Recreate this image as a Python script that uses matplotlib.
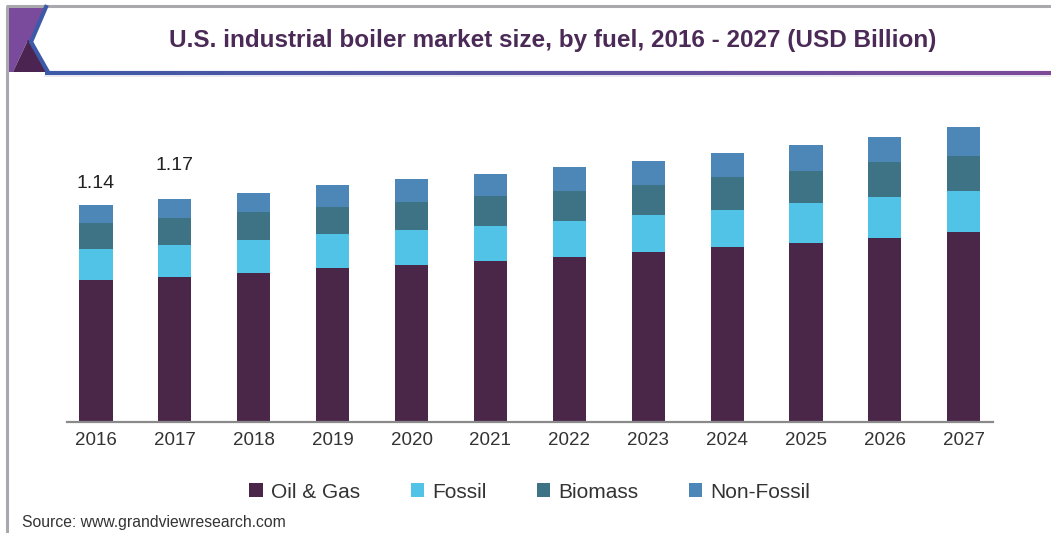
import matplotlib
matplotlib.use("Agg")
import matplotlib.pyplot as plt
import numpy as np
from matplotlib.patches import Polygon
from matplotlib.collections import LineCollection

plt.rcParams['font.family'] = ['Liberation Sans', 'DejaVu Sans']

years = ["2016", "2017", "2018", "2019", "2020", "2021", "2022", "2023", "2024", "2025", "2026", "2027"]
oil_gas = [0.746, 0.763, 0.784, 0.807, 0.826, 0.847, 0.868, 0.891, 0.918, 0.939, 0.968, 0.999]
fossil = [0.161, 0.166, 0.172, 0.179, 0.182, 0.184, 0.189, 0.196, 0.196, 0.210, 0.212, 0.214]
biomass = [0.137, 0.140, 0.145, 0.145, 0.149, 0.156, 0.158, 0.158, 0.172, 0.170, 0.184, 0.185]
non_fossil = [0.096, 0.101, 0.103, 0.114, 0.119, 0.116, 0.123, 0.128, 0.129, 0.137, 0.134, 0.149]
series_names = ["Oil & Gas", "Fossil", "Biomass", "Non-Fossil"]
annot_idx = [0, 1]
annot_text = ["1.14", "1.17"]
annot_offset_px = [21, 34]

colors = ["#4a2749", "#50c3e6", "#3d7385", "#4d87b8"]

W, H = 1051, 533
fig = plt.figure(figsize=(W / 100, H / 100), dpi=100)
fig.patch.set_facecolor("white")

# Background / decoration layer in pixel coordinates
bg = fig.add_axes([0, 0, 1, 1], zorder=0)
bg.set_xlim(0, W)
bg.set_ylim(H, 0)
bg.axis("off")

# gray frame lines
bg.plot([6, W], [6, 6], color="#a9a9ad", lw=2.2, solid_capstyle="butt")
bg.plot([7, 7], [6, H], color="#a9a9ad", lw=2.2, solid_capstyle="butt")

# header decoration
bg.add_patch(Polygon([[8, 7], [45, 7], [31, 42], [27, 42], [13, 72], [8, 72]],
                     closed=True, facecolor="#7a4a9c", edgecolor="none"))
bg.add_patch(Polygon([[13, 72], [28, 40], [33, 42], [47, 72]],
                     closed=True, facecolor="#4b2451", edgecolor="none"))
bg.plot([46, 31, 48], [7, 42, 72], color="#3d5aa8", lw=3.0, solid_joinstyle="miter")

# gradient line under header
xs = np.linspace(45, W, 200)
segs = [[[xs[i], 72.5], [xs[i + 1], 72.5]] for i in range(len(xs) - 1)]
c0 = np.array([0x3d, 0x5a, 0xa8]) / 255
c1 = np.array([0x7d, 0x4a, 0x98]) / 255
cols = [tuple(c0 + (c1 - c0) * (i / (len(segs) - 1))) for i in range(len(segs))]
bg.add_collection(LineCollection(segs, colors=cols, linewidths=3.0))
bg.plot([45, W], [76, 76], color="#e6e6ee", lw=1.2)

# Title
fig.text(553 / W, 1 - 40 / H,
         "U.S. industrial boiler market size, by fuel, 2016 - 2027 (USD Billion)",
         ha="center", va="center", fontsize=17.5, fontweight="bold", color="#4b2a57")

# Main chart
ax_left = 66.7 / W
ax_right = 993 / W
ax_bottom = (H - 422) / H
ax_height = 322 / H
ax = fig.add_axes([ax_left, ax_bottom, ax_right - ax_left, ax_height], zorder=1)
ax.patch.set_alpha(0)

x = np.arange(len(years))
bottom = np.zeros(len(years))
handles = []
for vals, name, col in zip([oil_gas, fossil, biomass, non_fossil], series_names, colors):
    b = ax.bar(x, vals, width=0.42, bottom=bottom, color=col, label=name, edgecolor="none")
    handles.append(b)
    bottom = bottom + np.array(vals)

for i, txt, off in zip(annot_idx, annot_text, annot_offset_px):
    ax.annotate(txt, (x[i], bottom[i]), xytext=(0, off * 0.72), textcoords="offset points",
                ha="center", va="center", fontsize=14, color="#222222")

ax.set_xlim(-0.371, len(years) - 1 + 0.371)
ax.set_ylim(0, 322 / 190.4)
ax.set_xticks(x)
ax.set_xticklabels(years, fontsize=13.5, color="#333333")
ax.tick_params(axis="x", length=0, pad=7.5)
ax.set_yticks([])
for s in ["top", "right", "left"]:
    ax.spines[s].set_visible(False)
ax.spines["bottom"].set_color("#8a8a8a")
ax.spines["bottom"].set_linewidth(1.6)

fig.legend(handles=handles, labels=series_names, loc="center",
           bbox_to_anchor=(530 / W, 1 - 492 / H), ncol=4, frameon=False,
           fontsize=15, handlelength=0.65, handleheight=0.65, handletextpad=0.4,
           columnspacing=2.4, labelcolor="#333333")

fig.text(22 / W, 1 - 522 / H, "Source: www.grandviewresearch.com",
         ha="left", va="center", fontsize=11.3, color="#333333")

fig.savefig("out.png", dpi=100, facecolor="white")
